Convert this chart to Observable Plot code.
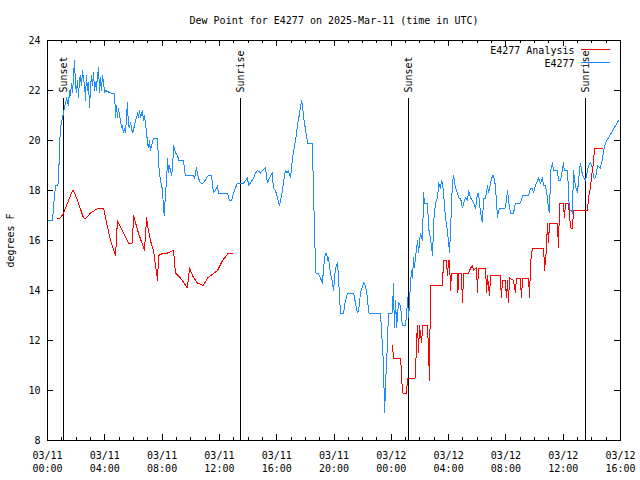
<!DOCTYPE html>
<html>
<head>
<meta charset="utf-8">
<script src="https://cdn.jsdelivr.net/npm/d3@7"></script>
<script src="https://cdn.jsdelivr.net/npm/@observablehq/plot@0.6"></script>
<style>
  html, body { margin: 0; padding: 0; background: #ffffff; }
  #chart { width: 640px; height: 480px; }
  #chart svg line, #chart svg rect, #chart svg path { shape-rendering: crispEdges; }
</style>
</head>
<body>
<div id="chart"></div>
<script>
// ---- Data (times are minutes after 2025-03-11 00:00 UTC) ----
const titleText = "Dew Point for E4277 on 2025-Mar-11 (time in UTC)";
const yLabel = "degrees F";
const seriesNames = ["E4277 Analysis", "E4277"];
const seriesColors = ["#ff0000", "#1a8cff"];

const obsMinutes = [0,21,25,29,34,42,46,50,54,63,71,80,88,92,96,101,105,109,113,117,121,126,130,134,138,142,147,151,155,159,163,168,172,176,180,184,188,193,197,201,205,209,214,218,222,226,230,235,239,243,264,281,285,289,293,297,302,306,310,314,318,323,327,331,335,339,343,348,352,356,360,364,369,373,377,381,385,390,394,398,402,406,410,415,419,423,427,431,436,444,461,465,473,478,482,486,490,494,498,503,507,511,515,519,524,528,536,545,549,570,574,578,612,616,624,632,641,653,666,674,687,695,704,712,716,754,762,771,779,787,796,821,829,838,842,850,863,871,880,892,900,913,921,926,934,942,946,955,963,972,976,984,993,997,1005,1009,1018,1026,1035,1039,1047,1056,1064,1068,1072,1081,1085,1089,1102,1110,1114,1118,1123,1131,1139,1143,1152,1156,1164,1169,1173,1177,1185,1194,1198,1206,1215,1219,1227,1240,1248,1257,1282,1290,1298,1303,1311,1324,1332,1340,1345,1395,1399,1407,1412,1416,1424,1428,1445,1449,1453,1458,1462,1470,1479,1483,1487,1495,1499,1504,1508,1512,1516,1520,1525,1529,1533,1537,1541,1550,1554,1562,1571,1575,1579,1592,1596,1604,1613,1617,1625,1634,1638,1646,1650,1654,1659,1667,1675,1684,1688,1696,1701,1709,1717,1722,1730,1738,1743,1751,1759,1764,1772,1780,1784,1793,1801,1805,1814,1822,1826,1835,1843,1847,1856,1864,1868,1876,1885,1889,1897,1906,1918,1927,1931,1939,1952,1960,1969,1981,1990,2015,2023,2031,2036,2044,2057,2065,2073,2078,2086,2094,2098,2103,2107,2115,2119,2136,2140,2149,2161,2165,2178,2186,2195,2199,2203,2211,2220,2224,2232,2241,2253,2262,2266,2274,2283,2287,2295,2304,2316,2325,2329,2337,2392];
const obsDew = [16.8,16.8,17.3,17.8,18.2,18.2,18.3,19.6,20.5,20.9,21.3,21.7,21.4,22.0,21.8,22.3,21.9,22.6,23.2,22.3,21.9,22.4,21.7,22.5,22.6,22.2,22.8,22.4,22.3,21.6,22.6,22.0,22.3,21.3,22.1,22.6,22.2,22.7,22.0,22.3,22.0,22.6,22.9,21.9,22.5,22.0,22.6,22.3,21.9,22.0,21.9,21.9,20.9,21.4,20.9,21.3,21.0,20.8,20.5,20.6,20.3,20.5,20.3,21.0,21.5,20.6,20.5,20.7,20.5,20.3,20.4,20.6,20.8,20.9,21.1,20.9,21.2,20.9,21.1,21.2,20.8,21.0,20.7,20.3,19.9,19.7,20.0,19.6,19.8,20.1,20.1,19.1,18.4,18.2,18.0,17.2,17.0,18.0,18.2,19.3,18.7,19.0,18.8,18.6,18.9,19.8,19.5,19.4,19.2,19.2,18.8,18.6,18.6,18.5,18.9,18.5,18.3,18.3,18.5,18.6,18.6,17.9,18.0,18.2,17.9,17.9,17.6,17.6,17.9,18.1,18.3,18.3,18.4,18.5,18.2,18.3,18.5,18.7,18.8,18.7,18.8,18.9,18.3,18.4,18.6,18.7,18.1,18.0,17.7,17.4,17.6,18.0,18.6,18.8,18.7,18.8,18.5,19.3,19.8,20.0,20.6,21.1,21.6,21.4,21.0,20.4,20.2,19.9,19.9,19.9,17.8,16.7,14.7,14.7,14.6,14.5,14.3,14.9,15.5,15.5,15.2,15.3,14.7,14.3,14.0,14.9,15.1,14.5,13.1,13.1,13.6,13.9,13.9,13.5,13.1,13.2,13.9,14.3,14.2,13.7,13.1,13.1,12.4,11.1,9.1,10.3,11.9,13.1,13.1,14.3,12.5,13.6,12.5,13.5,13.4,12.9,12.6,12.6,12.6,13.0,13.7,12.9,13.4,14.3,14.8,14.5,15.3,14.9,15.3,16.0,15.5,16.3,16.0,17.9,17.5,17.5,16.5,16.1,15.4,16.7,17.5,17.7,18.3,18.1,18.4,18.3,17.9,16.9,16.4,15.5,16.4,18.3,18.6,18.1,17.9,17.7,17.7,17.3,17.5,17.7,17.6,18.0,17.7,17.6,17.5,17.3,17.9,17.9,17.1,16.7,17.7,17.7,18.2,17.9,18.3,18.6,18.6,18.2,16.9,17.2,17.3,17.3,17.3,18.0,17.6,17.1,17.1,17.5,17.5,17.5,17.8,17.8,18.1,18.1,17.9,18.2,18.5,18.3,18.5,18.2,18.2,17.7,17.3,17.1,18.8,19.1,18.8,18.8,18.4,18.4,19.1,18.8,18.8,17.2,17.2,17.1,18.8,18.2,17.9,18.4,19.1,18.6,18.4,18.8,19.0,19.1,18.9,18.5,18.5,19.0,18.9,19.3,19.6,19.9,20.8];

const anaMinutes = [38,54,67,105,109,126,151,163,180,214,235,243,264,285,293,339,356,360,381,406,415,419,431,444,461,465,486,503,528,536,557,586,595,607,628,653,670,712,733,758,779,1100,1445,1449,1479,1483,1487,1504,1508,1541,1546,1550,1554,1558,1567,1571,1592,1596,1600,1604,1654,1659,1671,1675,1680,1684,1688,1692,1717,1719,1722,1734,1738,1743,1764,1772,1780,1784,1797,1801,1805,1835,1839,1843,1851,1856,1897,1901,1906,1918,1922,1927,1931,1935,1952,1960,1964,1981,1985,1990,2015,2019,2023,2031,2078,2082,2090,2094,2098,2103,2136,2140,2145,2161,2165,2170,2182,2191,2199,2203,2262,2266,2274,2283,2287,2291,2325];
const anaDew = [16.9,16.9,17.1,18.0,18.0,17.6,16.9,16.9,17.1,17.3,17.3,16.9,16.0,15.4,16.8,15.9,15.9,17.0,16.3,15.6,16.9,16.6,16.0,15.6,14.4,15.4,15.5,15.5,15.6,14.7,14.5,14.1,14.9,14.6,14.3,14.2,14.5,14.8,15.2,15.5,15.5,null,11.8,11.3,11.3,10.6,9.9,9.9,10.5,10.5,12.1,12.6,11.5,12.6,11.9,12.6,12.6,11.5,10.4,14.2,14.2,15.2,15.2,14.6,15.2,15.2,14.0,14.7,14.7,13.9,14.7,14.7,13.5,14.7,14.7,14.9,15.0,14.8,14.9,13.9,14.9,14.9,13.9,14.6,13.8,14.6,14.6,13.7,14.4,14.4,13.7,14.4,13.5,14.5,14.4,13.9,14.5,14.5,13.7,14.5,14.5,13.7,15.1,15.7,15.7,14.8,15.7,16.7,15.9,16.7,16.7,15.7,17.5,17.5,16.9,17.5,17.5,16.5,16.5,17.2,17.2,17.7,18.1,18.9,19.1,19.7,19.7];

const sunMinutes = [67, 808, 1512, 2253];
const sunLabels = ["Sunset", "Sunrise", "Sunset", "Sunrise"];

const yTicks = [8, 10, 12, 14, 16, 18, 20, 22, 24];
const xStartMinute = 0;
const xEndMinute = 2400;

// ---- Build ----
const base = Date.UTC(2025, 2, 11);
const toDate = m => new Date(base + m * 60000);

const obs = obsMinutes.map((m, i) => ({t: toDate(m), v: obsDew[i]}));
const ana = anaMinutes.map((m, i) => ({t: toDate(m), v: anaDew[i]}));
const sun = sunMinutes.map((m, i) => ({t: toDate(m), label: sunLabels[i]}));

const x0 = toDate(xStartMinute), x1 = toDate(xEndMinute);
const majorX = d3.utcHour.every(4).range(x0, new Date(+x1 + 1));
const minorX = d3.utcHour.range(x0, x1).filter(d => d.getUTCHours() % 4 !== 0);

const W = 640, H = 480, ML = 47, MR = 20, MT = 40, MB = 40;
const frameW = W - ML - MR, frameH = H - MT - MB;
const fmtDay = d3.utcFormat("%m/%d"), fmtTime = d3.utcFormat("%H:%M");

const plot = Plot.plot({
  width: W, height: H,
  marginLeft: ML, marginRight: MR, marginTop: MT, marginBottom: MB,
  x: {type: "utc", domain: [x0, x1]},
  y: {domain: [8, 24]},
  style: {fontFamily: "'DejaVu Sans Mono', monospace", fontSize: "10px", background: "#ffffff", color: "#000000"},
  marks: [
    // sunrise / sunset lines & labels
    Plot.ruleX(sun, {x: "t", insetTop: 58, stroke: "#000000", strokeWidth: 1}),
    Plot.text(sun, {x: "t", text: "label", frameAnchor: "top", dy: 52, rotate: -90, textAnchor: "start", lineAnchor: "middle", fontSize: 10, fill: "#000000"}),
    // data
    Plot.line(obs, {x: "t", y: "v", stroke: seriesColors[1], strokeWidth: 1}),
    Plot.line(ana, {x: "t", y: "v", stroke: seriesColors[0], strokeWidth: 1}),
    // frame & inward ticks
    Plot.frame({stroke: "#000000", strokeWidth: 1}),
    Plot.ruleX(majorX, {insetTop: frameH - 6, stroke: "#000000"}),
    Plot.ruleX(majorX, {insetBottom: frameH - 6, stroke: "#000000"}),
    Plot.ruleX(minorX, {insetTop: frameH - 3, stroke: "#000000"}),
    Plot.ruleX(minorX, {insetBottom: frameH - 3, stroke: "#000000"}),
    Plot.ruleY(yTicks, {insetRight: frameW - 6, stroke: "#000000"}),
    Plot.ruleY(yTicks, {insetLeft: frameW - 6, stroke: "#000000"}),
    // axes labels
    Plot.axisX(majorX, {tickSize: 0, tickPadding: 9, tickFormat: d => fmtDay(d) + "\n" + fmtTime(d), lineHeight: 1.3, fontSize: 10, label: null}),
    Plot.axisY(yTicks, {tickSize: 0, tickPadding: 7, fontSize: 10, label: null}),
    Plot.text([yLabel], {frameAnchor: "left", dx: -37, rotate: -90, textAnchor: "middle", lineAnchor: "middle", fontSize: 10}),
    // title
    Plot.text([titleText], {frameAnchor: "top", dy: -20, textAnchor: "middle", lineAnchor: "middle", fontSize: 10}),
    // legend labels
    Plot.text([seriesNames[0]], {frameAnchor: "top-right", dx: -46, dy: 10, textAnchor: "end", lineAnchor: "middle", fontSize: 10}),
    Plot.text([seriesNames[1]], {frameAnchor: "top-right", dx: -46, dy: 23, textAnchor: "end", lineAnchor: "middle", fontSize: 10})
  ]
});

// legend swatches
const svg = d3.select(plot);
[0, 1].forEach(i => {
  const yy = MT + 9.5 + i * 13;
  svg.append("line")
    .attr("x1", W - MR - 39).attr("x2", W - MR - 10)
    .attr("y1", yy).attr("y2", yy)
    .attr("stroke", seriesColors[i]).attr("stroke-width", 1);
});

document.getElementById("chart").appendChild(plot);
</script>
</body>
</html>
